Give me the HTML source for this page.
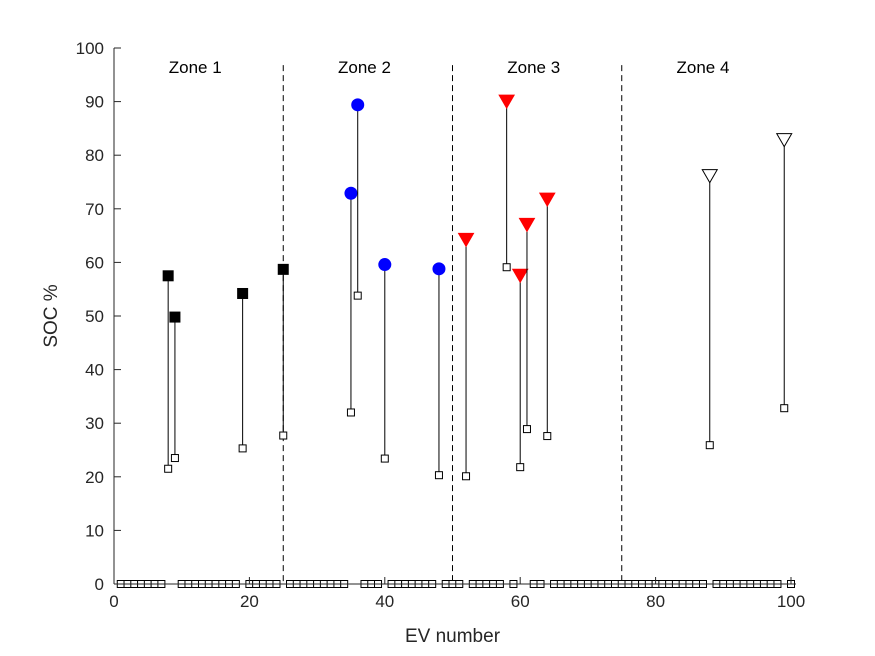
<!DOCTYPE html>
<html><head><meta charset="utf-8"><style>
body{margin:0;background:#fff}
svg{display:block;font-family:"Liberation Sans",Arial,sans-serif}
</style></head><body>
<svg id="chart" width="875" height="656" viewBox="0 0 875 656" xmlns="http://www.w3.org/2000/svg">
<rect width="875" height="656" fill="#fff"/>
<g id="grid"></g>
<g id="marks"></g>
<g id="axes"></g>
</svg>
<script>
const zone1EV=[8,9,19,25], zone1Low=[21.5,23.5,25.3,27.7], zone1High=[57.5,49.8,54.2,58.7];
const zone2EV=[35,36,40,48], zone2Low=[32,53.8,23.4,20.3], zone2High=[72.9,89.4,59.6,58.8];
const zone3EV=[52,58,60,61,64], zone3Low=[20.1,59.1,21.8,28.9,27.6], zone3High=[64.3,90.1,57.6,67.1,71.8];
const zone4EV=[88,99], zone4Low=[25.9,32.8], zone4High=[76.2,82.9];
const zoneBounds=[25,50,75];
const zoneLabels=["Zone 1","Zone 2","Zone 3","Zone 4"];
const zoneLabelX=[12,37,62,87];
const xTicks=[0,20,40,60,80,100];
const yTicks=[0,10,20,30,40,50,60,70,80,90,100];
const evCount=100;

const X0=114,X1=791,Y0=584,Y1=48;
const sx=v=>X0+(v-0)/(100-0)*(X1-X0);
const sy=v=>Y0-(v-0)/(100-0)*(Y0-Y1);
const NS="http://www.w3.org/2000/svg";
function mk(tag,attrs,parent){const e=document.createElementNS(NS,tag);for(const k in attrs)e.setAttribute(k,attrs[k]);parent.appendChild(e);return e;}
const grid=document.getElementById('grid'),marks=document.getElementById('marks'),axes=document.getElementById('axes');

zoneBounds.forEach(b=>{
  const l=mk('line',{x1:sx(b),x2:sx(b),y1:sy(96.8),y2:sy(0),stroke:'#000','stroke-width':1,'stroke-dasharray':'6,4'},grid);
  
  
});
zoneLabels.forEach((t,i)=>{
  const e=mk('text',{x:sx(zoneLabelX[i]),y:73,'text-anchor':'middle','font-size':17,fill:'#000'},grid);
  e.textContent=t;
  
  
});

const allEV=[].concat(zone1EV,zone2EV,zone3EV,zone4EV);
const bl=mk('line',{x1:sx(1),x2:sx(100),y1:sy(0),y2:sy(0),stroke:'#000','stroke-width':1},marks);


for(let i=1;i<=evCount;i++){
  if(allEV.includes(i))continue;
  const r=mk('rect',{x:sx(i)-3.5,y:sy(0)-3.5,width:7,height:7,fill:'#fff',stroke:'#000','stroke-width':1},marks);
  
  
}

function series(ev,low,high,shape,fill,name){
  ev.forEach((e,i)=>{
    const x=sx(e),yl=sy(low[i]),yh=sy(high[i]);
    const l=mk('line',{x1:x,x2:x,y1:yl,y2:yh,stroke:'#000','stroke-width':1},marks);
    
    
    const s=mk('rect',{x:x-3.5,y:yl-3.5,width:7,height:7,fill:'#fff',stroke:'#000','stroke-width':1},marks);
    
    
    let m;
    if(shape==='square') m=mk('rect',{x:x-5.5,y:yh-5.5,width:11,height:11,fill:fill},marks);
    else if(shape==='circle') m=mk('circle',{cx:x,cy:yh,r:6.5,fill:fill},marks);
    else m=mk('polygon',{points:`${x-7.5},${yh-6} ${x+7.5},${yh-6} ${x},${yh+7}`,fill:fill,stroke:fill==='#fff'?'#000':fill,'stroke-width':1},marks);
    
    
  });
}
series(zone1EV,zone1Low,zone1High,'square','#000','zone1');
series(zone2EV,zone2Low,zone2High,'circle','#0000ff','zone2');
series(zone3EV,zone3Low,zone3High,'tri','#ff0000','zone3');
series(zone4EV,zone4Low,zone4High,'tri','#fff','zone4');

const xa=mk('line',{x1:X0,x2:X1+5,y1:Y0,y2:Y0,stroke:'#262626','stroke-width':1},axes);


const ya=mk('line',{x1:X0,x2:X0,y1:Y0,y2:Y1,stroke:'#262626','stroke-width':1},axes);


xTicks.forEach(v=>{
  mk('line',{x1:sx(v),x2:sx(v),y1:Y0,y2:Y0-7,stroke:'#262626'},axes);
  const t=mk('text',{x:sx(v),y:Y0+23,'text-anchor':'middle','font-size':17,fill:'#262626'},axes);
  t.textContent=v;
  
  
});
yTicks.forEach(v=>{
  mk('line',{x1:X0,x2:X0+7,y1:sy(v),y2:sy(v),stroke:'#262626'},axes);
  const t=mk('text',{x:X0-10,y:sy(v)+6,'text-anchor':'end','font-size':17,fill:'#262626'},axes);
  t.textContent=v;
  
  
});
const xt=mk('text',{x:(X0+X1)/2,y:642,'text-anchor':'middle','font-size':19,fill:'#262626'},axes);
xt.textContent='EV number';


const yt=mk('text',{x:0,y:0,'text-anchor':'middle','font-size':19,fill:'#262626',transform:`translate(57,${(Y0+Y1)/2}) rotate(-90)`},axes);
yt.textContent='SOC %';


</script>
</body></html>
